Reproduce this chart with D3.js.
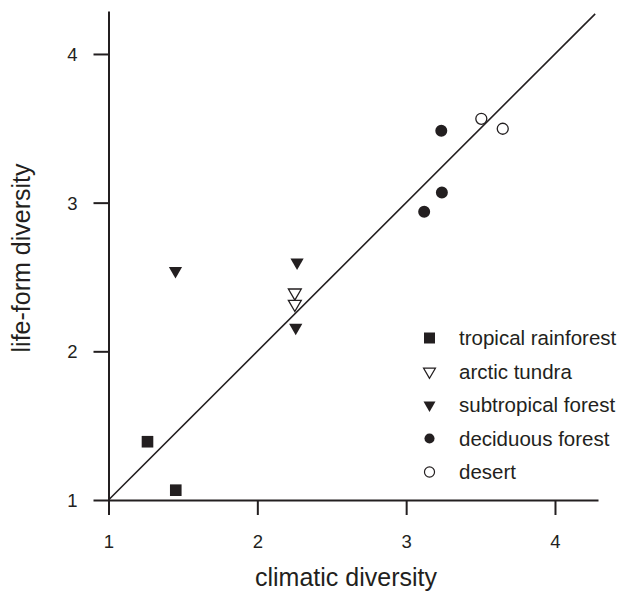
<!DOCTYPE html>
<html>
<head>
<meta charset="utf-8">
<script src="https://cdn.jsdelivr.net/npm/d3@7"></script>
<style>
  html, body { margin: 0; padding: 0; background: #fff; }
  svg { display: block; font-family: "Liberation Sans", Arial, sans-serif; }
</style>
</head>
<body>
<svg id="chart" width="623" height="593"></svg>
<script>
// Biome groups, in legend order
const groups = ["tropical rainforest", "arctic tundra", "subtropical forest", "deciduous forest", "desert"];

// climatic diversity (x) and life-form diversity (y) for each biome
const tropicalX = [1.262, 1.452];
const tropicalY = [1.392, 1.066];
const tundraX = [2.252, 2.252];
const tundraY = [2.394, 2.318];
const subtropicalX = [1.450, 2.267, 2.258];
const subtropicalY = [2.541, 2.598, 2.160];
const deciduousX = [3.236, 3.240, 3.121];
const deciduousY = [3.483, 3.068, 2.939];
const desertX = [3.505, 3.649];
const desertY = [3.564, 3.497];

const xTicks = [1, 2, 3, 4];
const yTicks = [1, 2, 3, 4];
const xDomain = [1, 4.289];
const yDomain = [1, 4.289];
const refLine = [1, 4.27]; // 1:1 line extent

const ink = "#231f20";

const svg = d3.select("#chart");
const x = d3.scaleLinear().domain(xDomain).range([108.5, 598]);
const y = d3.scaleLinear().domain(yDomain).range([500, 11]);

// axes
const xAxis = svg.append("g")
  .attr("transform", `translate(0,${y(1)})`)
  .call(d3.axisBottom(x).tickValues(xTicks).tickSize(15).tickSizeOuter(0).tickPadding(20).tickFormat(d3.format("d")));
const yAxis = svg.append("g")
  .attr("transform", `translate(${x(1)},0)`)
  .call(d3.axisLeft(y).tickValues(yTicks).tickSize(15).tickSizeOuter(0).tickPadding(16).tickFormat(d3.format("d")));

[xAxis, yAxis].forEach(g => {
  g.select(".domain").attr("stroke", ink).attr("stroke-width", 2);
  g.selectAll(".tick line").attr("stroke", ink).attr("stroke-width", 2);
  g.selectAll(".tick text").attr("fill", ink).style("font-size", "18.5px")
    .style("font-family", "'Liberation Sans', Arial, sans-serif");
});
yAxis.selectAll(".tick text").attr("dy", "0.36em");

// axis titles
svg.append("text")
  .attr("x", 346).attr("y", 586)
  .attr("text-anchor", "middle")
  .attr("fill", ink).style("font-size", "25px")
  .text("climatic diversity");
svg.append("text")
  .attr("transform", `translate(30,258) rotate(-90)`)
  .attr("text-anchor", "middle")
  .attr("fill", ink).style("font-size", "25px")
  .text("life-form diversity");

// 1:1 reference line
svg.append("line")
  .attr("x1", x(refLine[0])).attr("y1", y(refLine[0]))
  .attr("x2", x(refLine[1])).attr("y2", y(refLine[1]))
  .attr("stroke", ink).attr("stroke-width", 1.6);

// marker styles per group
const styles = {
  "tropical rainforest": { shape: d3.symbolSquare, size: 135, fill: ink, rot: 0 },
  "arctic tundra": { shape: d3.symbolTriangle, size: 72, fill: "#fff", rot: 180 },
  "subtropical forest": { shape: d3.symbolTriangle, size: 76, fill: ink, rot: 180 },
  "deciduous forest": { shape: d3.symbolCircle, size: 113, fill: ink, rot: 0 },
  "desert": { shape: d3.symbolCircle, size: 95, fill: "#fff", rot: 0 }
};

const series = [
  { name: groups[0], xs: tropicalX, ys: tropicalY },
  { name: groups[1], xs: tundraX, ys: tundraY },
  { name: groups[2], xs: subtropicalX, ys: subtropicalY },
  { name: groups[3], xs: deciduousX, ys: deciduousY },
  { name: groups[4], xs: desertX, ys: desertY }
];

const points = series.flatMap(s => s.xs.map((v, i) => ({ name: s.name, x: v, y: s.ys[i] })));

svg.append("g").selectAll("path")
  .data(points)
  .join("path")
  .attr("d", d => d3.symbol().type(styles[d.name].shape).size(styles[d.name].size)())
  .attr("transform", d => `translate(${x(d.x)},${y(d.y)}) rotate(${styles[d.name].rot})`)
  .attr("fill", d => styles[d.name].fill)
  .attr("stroke", ink)
  .attr("stroke-width", d => styles[d.name].fill === ink ? 0 : 1.3);

// legend
const legend = svg.append("g").attr("transform", "translate(429.5,338)");
const legendRows = legend.selectAll("g")
  .data(groups)
  .join("g")
  .attr("transform", (d, i) => `translate(0,${i * 33.5})`);
legendRows.append("path")
  .attr("d", d => {
    const st = styles[d];
    const sz = st.shape === d3.symbolCircle ? 80 : (st.shape === d3.symbolSquare ? 121 : 62);
    return d3.symbol().type(st.shape).size(sz)();
  })
  .attr("transform", d => `rotate(${styles[d].rot})`)
  .attr("fill", d => styles[d].fill)
  .attr("stroke", ink)
  .attr("stroke-width", d => styles[d].fill === ink ? 0 : 1.2);
legendRows.append("text")
  .attr("x", 29.5).attr("y", 0).attr("dy", "0.35em")
  .attr("fill", ink).style("font-size", "20.5px")
  .text(d => d);
</script>
</body>
</html>
